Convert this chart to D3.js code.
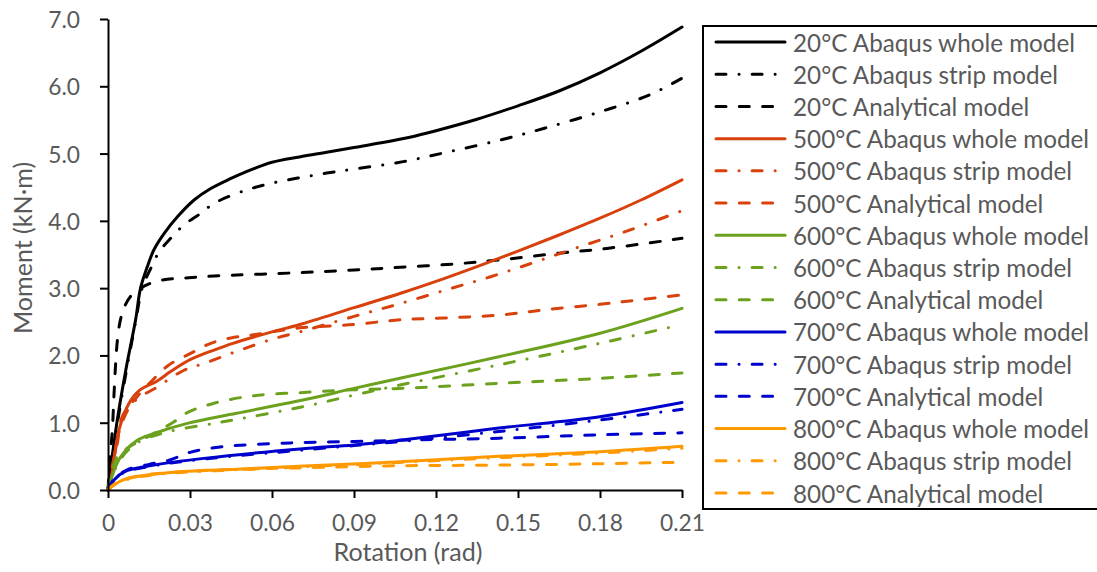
<!DOCTYPE html>
<html><head><meta charset="utf-8">
<script src="https://cdn.jsdelivr.net/npm/d3@7"></script>
<style>body{margin:0;background:#fff} svg{display:block}</style>
</head><body>
<svg id="c" width="1097" height="572"></svg>
<script>
// ---------- DATA ----------
const xTickValues = [0, 0.03, 0.06, 0.09, 0.12, 0.15, 0.18, 0.21];
const xTickLabels = ["0", "0.03", "0.06", "0.09", "0.12", "0.15", "0.18", "0.21"];
const yTickValues = [0, 1, 2, 3, 4, 5, 6, 7];
const yTickLabels = ["0.0", "1.0", "2.0", "3.0", "4.0", "5.0", "6.0", "7.0"];
const temperatures = ["20°C", "500°C", "600°C", "700°C", "800°C"];
const modelNames = ["Abaqus whole model", "Abaqus strip model", "Analytical model"];

// [rotation (rad), moment (kN·m)]
const t20Whole = [[0,0],[0.001,0.33],[0.0034,1.04],[0.0065,1.78],[0.0101,2.53],[0.0119,3.0],[0.0144,3.32],[0.0168,3.57],[0.0205,3.81],[0.0254,4.06],[0.0315,4.31],[0.0376,4.48],[0.045,4.63],[0.05,4.72],[0.06,4.87],[0.07,4.95],[0.08,5.02],[0.09,5.09],[0.1,5.16],[0.11,5.24],[0.12,5.34],[0.135,5.51],[0.15,5.71],[0.165,5.93],[0.18,6.2],[0.195,6.52],[0.21,6.88]];
const t20Strip = [[0,0],[0.001,0.3],[0.0034,0.98],[0.0065,1.72],[0.0101,2.5],[0.0125,3.0],[0.0156,3.29],[0.0187,3.54],[0.0229,3.74],[0.0278,3.94],[0.0339,4.11],[0.0388,4.26],[0.05,4.45],[0.06,4.56],[0.07,4.64],[0.08,4.71],[0.09,4.77],[0.108,4.88],[0.125,5.03],[0.1434,5.2],[0.16,5.38],[0.18,5.62],[0.198,5.87],[0.21,6.12]];
const t20Analytical = [[0,0],[0.0007,0.45],[0.0016,0.9],[0.0022,1.42],[0.0028,1.88],[0.0035,2.25],[0.0045,2.52],[0.006,2.72],[0.0083,2.88],[0.0132,3.03],[0.0199,3.12],[0.0278,3.15],[0.0388,3.18],[0.0702,3.23],[0.09,3.27],[0.107,3.31],[0.127,3.36],[0.1434,3.42],[0.165,3.52],[0.1825,3.59],[0.21,3.74]];

const t500Whole = [[0,0],[0.001,0.15],[0.004,0.89],[0.0077,1.29],[0.0115,1.48],[0.018,1.62],[0.0229,1.76],[0.0302,1.94],[0.0388,2.08],[0.0457,2.18],[0.06,2.35],[0.0702,2.46],[0.09,2.71],[0.1068,2.92],[0.12,3.1],[0.135,3.32],[0.15,3.55],[0.165,3.79],[0.18,4.04],[0.195,4.31],[0.21,4.61]];
const t500Strip = [[0,0],[0.001,0.14],[0.004,0.85],[0.0077,1.22],[0.0115,1.38],[0.0168,1.5],[0.0278,1.78],[0.0351,1.88],[0.045,2.03],[0.06,2.24],[0.0702,2.35],[0.09,2.58],[0.1068,2.77],[0.125,2.99],[0.14,3.17],[0.155,3.37],[0.17,3.58],[0.19,3.85],[0.21,4.15]];
const t500Analytical = [[0,0],[0.0015,0.35],[0.0034,0.69],[0.0052,1.09],[0.0107,1.39],[0.016,1.62],[0.022,1.85],[0.0302,2.03],[0.0376,2.18],[0.045,2.26],[0.052,2.3],[0.06,2.35],[0.0702,2.41],[0.09,2.46],[0.107,2.53],[0.125,2.56],[0.1434,2.6],[0.16,2.68],[0.18,2.76],[0.195,2.83],[0.21,2.9]];

const t600Whole = [[0,0],[0.001,0.15],[0.0046,0.49],[0.0107,0.74],[0.0168,0.84],[0.029,0.99],[0.047,1.14],[0.0717,1.34],[0.09,1.51],[0.1068,1.66],[0.143,1.98],[0.18,2.33],[0.21,2.7]];
const t600Strip = [[0,0],[0.001,0.14],[0.0046,0.46],[0.0107,0.7],[0.0214,0.86],[0.0388,0.99],[0.0458,1.04],[0.0717,1.24],[0.09,1.41],[0.1068,1.56],[0.143,1.86],[0.18,2.18],[0.209,2.45]];
const t600Analytical = [[0,0],[0.0015,0.3],[0.0035,0.5],[0.007,0.62],[0.015,0.8],[0.024,1.01],[0.029,1.15],[0.0388,1.29],[0.053,1.4],[0.0717,1.45],[0.09,1.49],[0.1068,1.51],[0.143,1.585],[0.18,1.66],[0.21,1.74]];

const t700Whole = [[0,0],[0.0022,0.15],[0.0059,0.27],[0.0168,0.37],[0.035,0.47],[0.0702,0.61],[0.09,0.67],[0.1068,0.74],[0.143,0.92],[0.18,1.09],[0.21,1.3]];
const t700Strip = [[0,0],[0.0022,0.15],[0.0059,0.26],[0.0168,0.36],[0.035,0.46],[0.0702,0.59],[0.09,0.66],[0.1068,0.72],[0.143,0.87],[0.18,1.04],[0.21,1.2]];
const t700Analytical = [[0,0],[0.002,0.15],[0.007,0.3],[0.015,0.38],[0.0229,0.45],[0.03,0.56],[0.041,0.64],[0.067,0.7],[0.09,0.72],[0.1068,0.74],[0.143,0.77],[0.18,0.82],[0.21,0.85]];

const t800Whole = [[0,0],[0.002,0.07],[0.005,0.14],[0.0107,0.2],[0.0229,0.26],[0.047,0.31],[0.0717,0.355],[0.1068,0.42],[0.143,0.5],[0.18,0.57],[0.21,0.65]];
const t800Strip = [[0,0],[0.002,0.07],[0.005,0.13],[0.0107,0.19],[0.0229,0.25],[0.047,0.3],[0.0717,0.345],[0.1068,0.41],[0.143,0.48],[0.18,0.55],[0.21,0.62]];
const t800Analytical = [[0,0],[0.002,0.08],[0.006,0.16],[0.015,0.23],[0.03,0.28],[0.05,0.31],[0.0717,0.33],[0.1068,0.36],[0.143,0.37],[0.18,0.39],[0.207,0.41]];

const seriesData = [
  [t20Whole, t20Strip, t20Analytical],
  [t500Whole, t500Strip, t500Analytical],
  [t600Whole, t600Strip, t600Analytical],
  [t700Whole, t700Strip, t700Analytical],
  [t800Whole, t800Strip, t800Analytical]
];

// ---------- STYLES ----------
const tempColors = ["#000000", "#D8400C", "#6CA11E", "#0000CC", "#FF9900"];
const modelDash = [null, "10,13,0.1,13", "10,13.3"];
const FONT = "Lato, 'Open Sans', sans-serif";
const TEXT = "#595959";

// ---------- LAYOUT ----------
const svg = d3.select("#c");
const plotL = 108, plotR = 682, plotT = 19, plotB = 490;
const x = d3.scaleLinear().domain([0, 0.21]).range([plotL, plotR]);
const y = d3.scaleLinear().domain([0, 7]).range([plotB, plotT]);

function fitSize(str, target) {
  const t = svg.append("text").attr("font-family", FONT).attr("font-size", 100).text(str);
  const w = t.node().getComputedTextLength();
  t.remove();
  return 100 * target / w;
}
const tickSize = fitSize("0.03", 45);
const legendSize = fitSize("20°C Abaqus whole model", 282);
const titleSize = fitSize("Rotation (rad)", 149);

// plot lines
const line = d3.line().x(d => x(d[0])).y(d => y(d[1])).curve(d3.curveCatmullRom.alpha(0.5));
const gLines = svg.append("g");
seriesData.forEach((group, ti) => {
  group.forEach((data, mi) => {
    gLines.append("path")
      .attr("d", line(data))
      .attr("fill", "none")
      .attr("stroke", tempColors[ti])
      .attr("stroke-width", 3)
      .attr("stroke-linecap", "round")
      .attr("stroke-linejoin", "round")
      .attr("stroke-dasharray", modelDash[mi]);
  });
});

// axes
const xAxis = d3.axisBottom(x).tickValues(xTickValues).tickFormat((d, i) => xTickLabels[i]).tickSize(8).tickSizeOuter(0);
const yAxis = d3.axisLeft(y).tickValues(yTickValues).tickFormat((d, i) => yTickLabels[i]).tickSize(8).tickSizeOuter(0);
const gx = svg.append("g").attr("transform", `translate(0,${plotB})`).call(xAxis);
const gy = svg.append("g").attr("transform", `translate(${plotL},0)`).call(yAxis);
[gx, gy].forEach(g => {
  g.select(".domain").attr("stroke", "#000").attr("stroke-width", 2);
  g.selectAll(".tick line").attr("stroke", "#000").attr("stroke-width", 2);
  g.selectAll(".tick text").attr("fill", TEXT).attr("font-family", FONT).attr("font-size", tickSize);
});
gx.selectAll(".tick text").attr("y", 32).attr("dy", null).attr("dominant-baseline", "central");
gy.selectAll(".tick text").attr("x", -28).attr("dy", null).attr("dominant-baseline", "central");

// axis titles
svg.append("text").attr("x", 408).attr("y", 551).attr("text-anchor", "middle").attr("dominant-baseline", "central")
  .attr("font-family", FONT).attr("font-size", titleSize).attr("fill", TEXT).text("Rotation (rad)");
svg.append("text").attr("transform", "translate(22,248) rotate(-90)").attr("text-anchor", "middle").attr("dominant-baseline", "central")
  .attr("font-family", FONT).attr("font-size", titleSize).attr("fill", TEXT).text("Moment (kN·m)");

// legend
const legend = svg.append("g");
legend.append("rect").attr("x", 703).attr("y", 26).attr("width", 400).attr("height", 483)
  .attr("fill", "#fff").attr("stroke", "#000").attr("stroke-width", 2);
const legendItems = [];
temperatures.forEach((t, ti) => modelNames.forEach((m, mi) => legendItems.push({ label: t + " " + m, ti, mi })));
const ly = d3.scaleLinear().domain([0, legendItems.length - 1]).range([42, 493]);
legendItems.forEach((it, i) => {
  legend.append("line").attr("x1", 716).attr("x2", 785).attr("y1", ly(i)).attr("y2", ly(i))
    .attr("stroke", tempColors[it.ti]).attr("stroke-width", 3).attr("stroke-linecap", "round")
    .attr("stroke-dasharray", modelDash[it.mi]);
  legend.append("text").attr("x", 793).attr("y", ly(i)).attr("dominant-baseline", "central")
    .attr("font-family", FONT).attr("font-size", legendSize).attr("fill", TEXT).text(it.label);
});
</script>
</body></html>
